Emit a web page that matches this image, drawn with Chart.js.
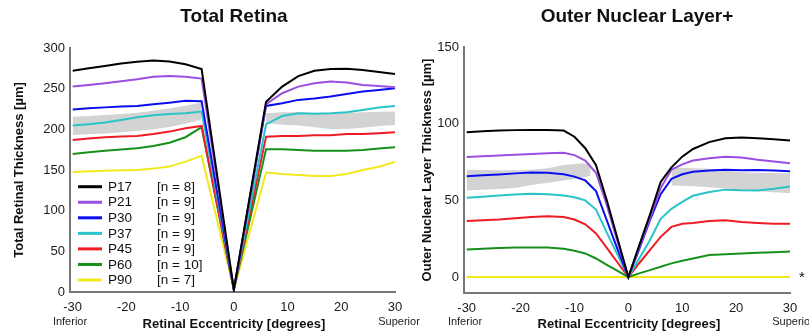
<!DOCTYPE html>
<html>
<head>
<meta charset="utf-8">
<script src="https://cdn.jsdelivr.net/npm/chart.js@4.4.1/dist/chart.umd.min.js"></script>
<style>
    body { margin: 0; background: #fff; }
    #wrap { position: relative; width: 809px; height: 333px; overflow: hidden; }
    .box { position: absolute; top: 0; height: 333px; }
    #box1 { left: 0; width: 440px; }
    #box2 { left: 405px; width: 404px; }
</style>
</head>
<body>
<div id="wrap">
    <div class="box" id="box1"><canvas id="totalChart"></canvas></div>
    <div class="box" id="box2"><canvas id="onlChart"></canvas></div>
</div>
<script>
const FONT = '"Liberation Sans", Arial, Helvetica, sans-serif';

// Kelompok umur, jumlah sampel dan warna garis
const groups = ['P17', 'P21', 'P30', 'P37', 'P45', 'P60', 'P90'];
const groupN = ['[n = 8]', '[n = 9]', '[n = 9]', '[n = 9]', '[n = 9]', '[n = 10]', '[n = 7]'];
const groupColors = ['#000000', '#9a4fe0', '#0a0ff0', '#2ac4c8', '#ee1c24', '#16901a', '#f2e81c'];

const xTicks = [-30, -20, -10, 0, 10, 20, 30];
const totalYTicks = [0, 50, 100, 150, 200, 250, 300];
const onlYTicks = [0, 50, 100, 150];

// Total Retina (eksentrisitas dalam derajat)
const totalEcc = [-30, -27, -24, -21, -18, -15, -12, -9, -6, 0, 6, 9, 12, 15, 18, 21, 24, 27, 30];
const totalP17 = [272, 275, 278, 281, 283, 284.5, 283.5, 280, 274, 3, 234, 252.5, 265.5, 272, 274.3, 274.5, 273, 270.6, 268];
const totalP21 = [252.6, 254.6, 256.6, 259, 261.5, 264.7, 265.5, 264.7, 262.4, 3, 231, 244.4, 252.5, 256.6, 258.7, 257.5, 254.6, 253.4, 251.8];
const totalP30 = [224.5, 225.8, 227, 228, 228.8, 230.8, 232.8, 235, 234.5, 3, 228.8, 232, 236.2, 237.8, 240.3, 243.5, 246.4, 248.5, 250.5];
const totalP37 = [204.6, 206.3, 208.3, 211.5, 214.9, 217.3, 219, 219.8, 221.8, 3, 206, 216.5, 219.8, 219.3, 219.8, 221, 223.9, 226.7, 228.8];
const totalP45 = [187, 188.8, 190.3, 191.1, 191.9, 194.3, 197.2, 201.3, 204.2, 3, 191, 191.9, 191.9, 192.7, 192.7, 194.3, 194.3, 195.2, 196.5];
const totalP60 = [169.7, 171.8, 173.8, 175.3, 176.7, 179.6, 183.6, 190.3, 202.6, 3, 175.5, 175.5, 174.7, 173.8, 173.8, 173.8, 174.7, 176.3, 178];
const totalP90 = [147.6, 148.4, 149.2, 149.6, 150, 151.7, 154.2, 160.3, 167.3, 3, 146.8, 145.1, 143.9, 142.7, 142.7, 145.1, 150, 154.1, 159.9];

// Pita abu-abu (rentang referensi) Total Retina
const totalBandLeftEcc = [-30, -27, -24, -21, -18, -15, -12, -9, -6];
const totalBandLeftLow = [193, 194, 195, 196.5, 198, 200, 203, 207, 212];
const totalBandLeftHigh = [215.5, 216.5, 217.5, 219, 220.5, 223, 225.5, 229, 233];
const totalBandRightEcc = [6, 9, 12, 15, 18, 21, 24, 27, 30];
const totalBandRightLow = [207.5, 205.5, 204.6, 202.5, 200.5, 200.5, 202, 204, 205.4];
const totalBandRightHigh = [219.8, 221, 221, 220.5, 219.8, 220, 221, 221.5, 221.8];

// Outer Nuclear Layer+
const onlEcc = [-30, -27, -24, -21, -18, -15, -12, -10, -8, -6, -4, -2, 0, 2, 4, 6, 8, 10, 12, 15, 18, 21, 24, 27, 30];
const onlP17 = [94.4, 95, 95.5, 95.8, 95.9, 95.9, 95.5, 91.5, 84, 73, 50, 25, 0, 20.5, 40.5, 62, 71.5, 78.5, 83.5, 88, 90.5, 91, 90.5, 89.8, 89];
const onlP21 = [78.3, 78.8, 79.3, 79.8, 80.3, 80.8, 81, 79.5, 76, 68, 47, 23, 0, 19, 38, 58, 70, 73.5, 76, 77.5, 78.5, 78, 76.5, 75.3, 74.2];
const onlP30 = [65.8, 66.3, 66.9, 67.6, 68.2, 68, 67, 65.5, 63, 56, 37, 18, 0, 18, 37, 54, 64, 67, 68.6, 69.5, 69.9, 69.6, 69.8, 69.5, 69];
const onlP37 = [51.7, 52.4, 53.2, 53.8, 54.3, 54, 53.2, 52, 50, 44, 29, 14.5, 0, 12, 24, 38, 44.5, 49, 53, 55.5, 57, 56.6, 56.5, 57.5, 59];
const onlP45 = [36.6, 37, 37.5, 38.4, 39.2, 39.6, 39.2, 37.5, 34.4, 28.4, 19, 9.5, 0, 9, 17.5, 26.2, 32.7, 34.8, 35.3, 36.6, 37, 35.9, 35.3, 34.8, 34.8];
const onlP60 = [18, 18.5, 19, 19.2, 19.3, 19.3, 18.4, 17.1, 15.4, 12.1, 8, 4, 0, 2.4, 4.5, 6.7, 8.9, 10.6, 12.1, 14.3, 14.9, 15.4, 15.8, 16.2, 16.7];
const onlP90 = [0, 0, 0, 0, 0, 0, 0, 0, 0, 0, 0, 0, 0, 0, 0, 0, 0, 0, 0, 0, 0, 0, 0, 0, 0];

// Pita abu-abu ONL
const onlBandLeftEcc = [-30, -27, -24, -21, -18, -15, -12, -9, -7];
const onlBandLeftLow = [56.5, 57, 57.4, 58, 60, 61.5, 63, 64.5, 66];
const onlBandLeftHigh = [69.9, 69.8, 69.6, 69.6, 70, 71, 73, 74, 74];
const onlBandRightEcc = [8, 10, 12, 15, 18, 21, 24, 27, 30];
const onlBandRightLow = [59.7, 59.5, 59.2, 58.6, 57.8, 56.9, 56, 55.3, 54.7];
const onlBandRightHigh = [71.6, 71.3, 71, 70.6, 69.5, 68.4, 68, 67.8, 67.7];

function pts(xs, ys) {
    return xs.map((x, i) => ({ x: x, y: ys[i] }));
}

function lineSets(xs, series) {
    return series.map((ys, i) => ({
        label: groups[i],
        data: pts(xs, ys),
        borderColor: groupColors[i],
        borderWidth: 2,
        tension: 0,
        fill: false,
        order: i
    }));
}

function bandSets(xs, low, high) {
    return [
        { data: pts(xs, low), borderWidth: 0, borderColor: 'rgba(0,0,0,0)', fill: false, order: 20 },
        { data: pts(xs, high), borderWidth: 0, borderColor: 'rgba(0,0,0,0)', backgroundColor: '#d3d3d3', fill: '-1', order: 20 }
    ];
}

// Plugin teks: judul, label sumbu, legenda
const figText = {
    id: 'figText',
    afterDraw(chart, args, opts) {
        const ctx = chart.ctx;
        (opts.items || []).forEach(t => {
            ctx.save();
            ctx.font = t.font;
            ctx.fillStyle = t.color || '#111';
            ctx.textAlign = t.align || 'center';
            ctx.textBaseline = 'middle';
            ctx.translate(t.x, t.y);
            if (t.rotate) ctx.rotate(t.rotate);
            ctx.fillText(t.text, 0, 0);
            ctx.restore();
        });
        if (opts.legend) {
            const L = opts.legend;
            groups.forEach((g, i) => {
                const y = L.y + i * L.step;
                ctx.save();
                ctx.strokeStyle = groupColors[i];
                ctx.lineWidth = 3;
                ctx.beginPath();
                ctx.moveTo(L.x, y);
                ctx.lineTo(L.x + 24, y);
                ctx.stroke();
                ctx.font = '13.5px ' + FONT;
                ctx.fillStyle = '#111';
                ctx.textAlign = 'left';
                ctx.textBaseline = 'middle';
                ctx.fillText(g, L.x + 30, y + 0.5);
                ctx.fillText(groupN[i], L.x + 79, y + 0.5);
                ctx.restore();
            });
        }
    }
};

function axisOptions(yMin, yMax, yTicks, yWidth, xHeight) {
    const tickFont = { family: FONT, size: 13 };
    return {
        x: {
            type: 'linear',
            min: -30.5,
            max: 30,
            afterBuildTicks: s => { s.ticks = xTicks.map(v => ({ value: v })); },
            afterFit: s => { s.height = xHeight; },
            grid: { display: false, drawTicks: false },
            border: { display: true, color: '#767676', width: 2 },
            ticks: { color: '#1a1a1a', font: tickFont, padding: 8, maxRotation: 0, autoSkip: false }
        },
        y: {
            type: 'linear',
            min: yMin,
            max: yMax,
            afterBuildTicks: s => { s.ticks = yTicks.map(v => ({ value: v })); },
            afterFit: s => { s.width = yWidth; },
            grid: { display: false, drawTicks: false },
            border: { display: true, color: '#767676', width: 2 },
            ticks: { color: '#1a1a1a', font: tickFont, padding: 5, autoSkip: false }
        }
    };
}

function initTotalChart() {
    const ctx = document.getElementById('totalChart').getContext('2d');
    const datasets = lineSets(totalEcc, [totalP17, totalP21, totalP30, totalP37, totalP45, totalP60, totalP90])
        .concat(bandSets(totalBandLeftEcc, totalBandLeftLow, totalBandLeftHigh))
        .concat(bandSets(totalBandRightEcc, totalBandRightLow, totalBandRightHigh));

    new Chart(ctx, {
        type: 'line',
        data: { datasets: datasets },
        plugins: [figText],
        options: {
            responsive: true,
            maintainAspectRatio: false,
            animation: false,
            layout: { padding: { left: 0, top: 48, right: 45, bottom: 0 } },
            scales: axisOptions(0, 300, totalYTicks, 70, 41),
            elements: { point: { radius: 0 } },
            plugins: {
                legend: { display: false },
                tooltip: { enabled: false },
                figText: {
                    items: [
                        { text: 'Total Retina', x: 234, y: 17, font: 'bold 19px ' + FONT },
                        { text: 'Total Retinal Thickness [\u00b5m]', x: 19, y: 170, rotate: -Math.PI / 2, font: 'bold 13px ' + FONT },
                        { text: 'Retinal Eccentricity [degrees]', x: 234, y: 324, font: 'bold 13px ' + FONT },
                        { text: 'Inferior', x: 70, y: 322, font: '11px ' + FONT, color: '#222' },
                        { text: 'Superior', x: 399, y: 322, font: '11px ' + FONT, color: '#222' }
                    ],
                    legend: { x: 78, y: 186.7, step: 15.55 }
                }
            }
        }
    });
}

function initOnlChart() {
    const ctx = document.getElementById('onlChart').getContext('2d');
    const datasets = lineSets(onlEcc, [onlP17, onlP21, onlP30, onlP37, onlP45, onlP60, onlP90])
        .concat(bandSets(onlBandLeftEcc, onlBandLeftLow, onlBandLeftHigh))
        .concat(bandSets(onlBandRightEcc, onlBandRightLow, onlBandRightHigh));

    new Chart(ctx, {
        type: 'line',
        data: { datasets: datasets },
        plugins: [figText],
        options: {
            responsive: true,
            maintainAspectRatio: false,
            animation: false,
            layout: { padding: { left: 0, top: 47, right: 19, bottom: 0 } },
            scales: axisOptions(-10.4, 150, onlYTicks, 59, 40),
            elements: { point: { radius: 0 } },
            plugins: {
                legend: { display: false },
                tooltip: { enabled: false },
                figText: {
                    items: [
                        { text: 'Outer Nuclear Layer+', x: 232, y: 17, font: 'bold 19px ' + FONT },
                        { text: 'Outer Nuclear Layer Thickness [\u00b5m]', x: 22, y: 170, rotate: -Math.PI / 2, font: 'bold 13px ' + FONT },
                        { text: 'Retinal Eccentricity [degrees]', x: 224, y: 324, font: 'bold 13px ' + FONT },
                        { text: 'Inferior', x: 60, y: 322, font: '11px ' + FONT, color: '#222' },
                        { text: 'Superior', x: 388, y: 322, font: '11px ' + FONT, color: '#222' },
                        { text: '*', x: 397, y: 278, font: '15px ' + FONT }
                    ]
                }
            }
        }
    });
}

document.addEventListener('DOMContentLoaded', function() {
    initTotalChart();
    initOnlChart();
});
</script>
</body>
</html>
